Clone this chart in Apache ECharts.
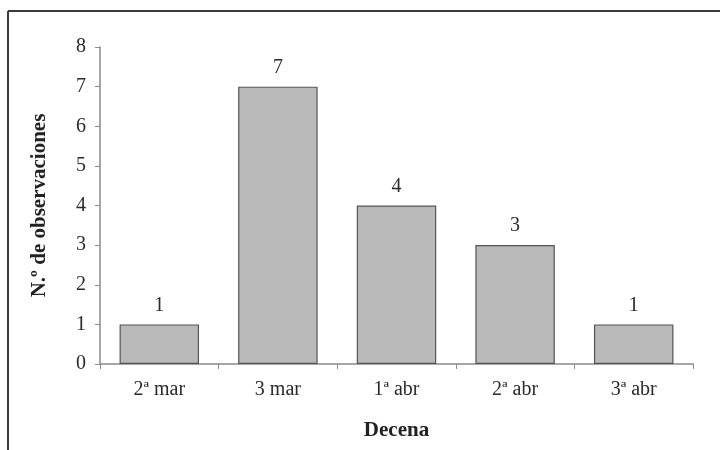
<!DOCTYPE html>
<html><head><meta charset="utf-8">
<script src="https://cdn.jsdelivr.net/npm/echarts@6/dist/echarts.min.js"></script>
<style>html,body{margin:0;padding:0;background:#fff}#c{width:720px;height:450px}</style>
</head><body><div id="c"></div>
<script>
const categories = ['2ª mar', '3 mar', '1ª abr', '2ª abr', '3ª abr'];
const values = [1, 7, 4, 3, 1];
const yTicks = [0, 1, 2, 3, 4, 5, 6, 7, 8];

const font = '"Liberation Serif", "Times New Roman", serif';
const chart = echarts.init(document.getElementById('c'), null, {renderer: 'canvas'});
chart.setOption({
  animation: false,
  backgroundColor: '#fff',
  grid: {left: 100, right: 27, top: 47, bottom: 86},
  graphic: [
    {type: 'line', shape: {x1: 8, y1: 11, x2: 720, y2: 11}, style: {stroke: '#3a3a3a', lineWidth: 2}},
    {type: 'line', shape: {x1: 8, y1: 11, x2: 8, y2: 450}, style: {stroke: '#3a3a3a', lineWidth: 2}}
  ],
  xAxis: {
    type: 'category',
    data: categories,
    name: 'Decena',
    nameLocation: 'middle',
    nameGap: 56,
    nameTextStyle: {fontFamily: font, fontSize: 21, fontWeight: 'bold', color: '#222'},
    axisLine: {lineStyle: {color: '#8a8a8a', width: 1.5}},
    axisTick: {show: true, length: 5, lineStyle: {color: '#8a8a8a'}},
    axisLabel: {fontFamily: font, fontSize: 20, color: '#2a2a2a', margin: 16}
  },
  yAxis: {
    type: 'value',
    min: yTicks[0],
    max: yTicks[yTicks.length - 1],
    interval: 1,
    name: 'N.º de observaciones',
    nameLocation: 'middle',
    nameGap: 50,
    nameTextStyle: {fontFamily: font, fontSize: 21, fontWeight: 'bold', color: '#222'},
    axisLine: {show: true, lineStyle: {color: '#8a8a8a', width: 1.5}},
    axisTick: {show: true, length: 5, lineStyle: {color: '#8a8a8a'}},
    splitLine: {show: false},
    axisLabel: {fontFamily: font, fontSize: 20, color: '#2a2a2a', margin: 14}
  },
  series: [{
    type: 'bar',
    data: values,
    barWidth: '67%',
    itemStyle: {color: '#b9b9b9', borderColor: '#555', borderWidth: 1.2},
    label: {show: true, position: 'top', distance: 9, fontFamily: font, fontSize: 20, color: '#2a2a2a'}
  }]
});
</script></body></html>
